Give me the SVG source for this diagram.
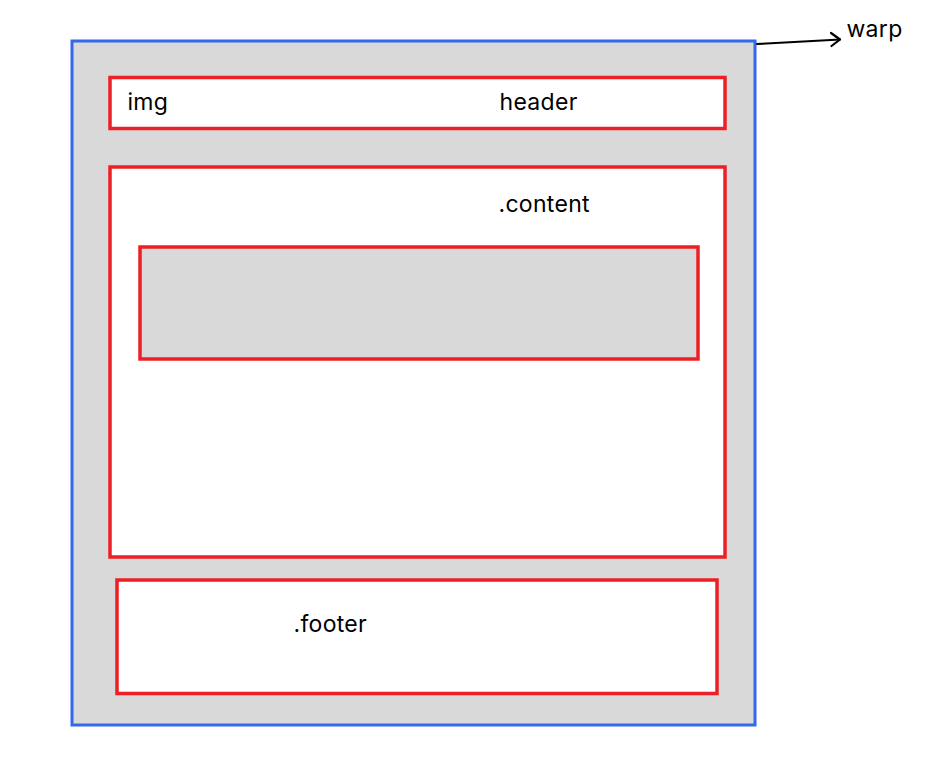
<svg xmlns="http://www.w3.org/2000/svg" width="951" height="763" viewBox="0 0 951 763">
<style>
.red{fill:#ffffff;stroke:#ee1f24;stroke-width:3.5}
.redg{fill:#d9d9d9;stroke:#ee1f24;stroke-width:3.5}
.blue{fill:#d9d9d9;stroke:#3368ee;stroke-width:3}
.t{font-family:Inter,"Liberation Sans",sans-serif;font-size:23px;letter-spacing:0.3px;fill:#000}
.c{fill:none;stroke:#000;stroke-width:2.2;stroke-linecap:round;stroke-linejoin:round}
</style>
<rect width="951" height="763" fill="#ffffff"/>
<g id="warp"><rect class="blue" x="72" y="41" width="683" height="684"/></g>
<g id="header"><rect class="red" x="110" y="77.5" width="615" height="51"/>
<text class="t" x="127.5" y="110">img</text>
<text class="t" x="499.5" y="110">header</text></g>
<g id="content"><rect class="red" x="110" y="167" width="615" height="390"/>
<text class="t" x="498.5" y="212">.content</text></g>
<g id="content-inner"><rect class="redg" x="140" y="247" width="558" height="112"/></g>
<g id="footer"><rect class="red" x="117" y="580" width="600" height="113.5"/>
<text class="t" x="293.5" y="632">.footer</text></g>
<g id="connectors">
<path class="c" d="M757 44 L840 39.5"/>
<path class="c" d="M831 33 L840 39.5 L831.5 46"/>
</g>
<g id="warp-label"><text class="t" x="846.5" y="37">warp</text></g>
</svg>
